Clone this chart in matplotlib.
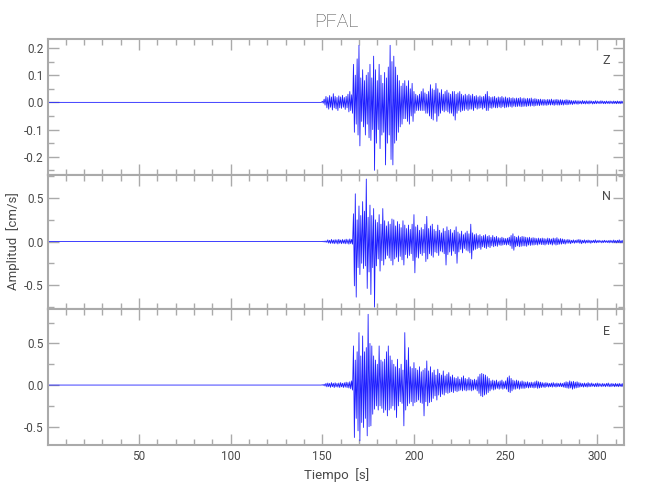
import numpy as np
import matplotlib
matplotlib.use("Agg")
import matplotlib.pyplot as plt
from matplotlib.ticker import MultipleLocator

# Station and components
station = "PFAL"
components = ["Z", "N", "E"]

# Peak readings, one positive and one negative peak per second (t = 150 .. 314 s)
t_start = 150
z_hi = [0.004, 0.012, 0.022, 0.018, 0.025, 0.02, 0.032, 0.022, 0.018, 0.024,
        0.02, 0.026, 0.018, 0.022, 0.03, 0.04, 0.028, 0.14, 0.10, 0.16,
        0.21, 0.09, 0.12, 0.08, 0.10, 0.11, 0.14, 0.09, 0.17, 0.12,
        0.08, 0.14, 0.10, 0.07, 0.11, 0.09, 0.13, 0.21, 0.15, 0.17,
        0.13, 0.10, 0.08, 0.06, 0.07, 0.08, 0.06, 0.08, 0.05, 0.07,
        0.04, 0.03, 0.025, 0.03, 0.04, 0.05, 0.035, 0.03, 0.04, 0.065,
        0.05, 0.045, 0.07, 0.05, 0.035, 0.047, 0.03, 0.04, 0.045, 0.035,
        0.03, 0.04, 0.04, 0.03, 0.035, 0.04, 0.03, 0.025, 0.03, 0.025,
        0.03, 0.025, 0.03, 0.022, 0.025, 0.02, 0.024, 0.02, 0.022, 0.03,
        0.04, 0.022, 0.018, 0.02, 0.022, 0.016, 0.02, 0.018, 0.022, 0.017,
        0.02, 0.016, 0.018, 0.015, 0.017, 0.014, 0.016, 0.015, 0.018, 0.014,
        0.016, 0.013, 0.015, 0.014, 0.016, 0.012, 0.014, 0.012, 0.011, 0.012,
        0.01, 0.011, 0.009, 0.011, 0.01, 0.012, 0.009, 0.01, 0.011, 0.009,
        0.01, 0.009, 0.008, 0.01, 0.009, 0.008, 0.007, 0.006, 0.007, 0.006,
        0.006, 0.005, 0.007, 0.005, 0.006, 0.005, 0.006, 0.005, 0.004, 0.006,
        0.005, 0.004, 0.006, 0.005, 0.004, 0.005, 0.004, 0.005, 0.004, 0.005,
        0.004, 0.005, 0.004, 0.005, 0.004]
z_lo = [-0.003, -0.01, -0.02, -0.025, -0.018, -0.028, -0.02, -0.024, -0.03, -0.02,
        -0.022, -0.018, -0.026, -0.02, -0.035, -0.03, -0.04, -0.11, -0.08, -0.12,
        -0.16, -0.07, -0.09, -0.12, -0.08, -0.13, -0.14, -0.10, -0.25, -0.15,
        -0.10, -0.17, -0.12, -0.11, -0.23, -0.15, -0.12, -0.21, -0.23, -0.15,
        -0.14, -0.11, -0.09, -0.08, -0.06, -0.06, -0.07, -0.08, -0.05, -0.07,
        -0.04, -0.03, -0.03, -0.03, -0.03, -0.03, -0.04, -0.04, -0.05, -0.06,
        -0.065, -0.04, -0.07, -0.05, -0.04, -0.03, -0.035, -0.03, -0.035, -0.04,
        -0.04, -0.05, -0.065, -0.04, -0.03, -0.035, -0.03, -0.03, -0.025, -0.03,
        -0.025, -0.025, -0.03, -0.02, -0.025, -0.022, -0.02, -0.025, -0.02, -0.03,
        -0.03, -0.02, -0.022, -0.018, -0.02, -0.02, -0.017, -0.02, -0.016, -0.02,
        -0.018, -0.017, -0.015, -0.018, -0.014, -0.016, -0.015, -0.014, -0.016, -0.015,
        -0.014, -0.015, -0.013, -0.014, -0.012, -0.014, -0.012, -0.011, -0.012, -0.01,
        -0.011, -0.01, -0.011, -0.009, -0.01, -0.009, -0.011, -0.009, -0.01, -0.01,
        -0.009, -0.01, -0.008, -0.009, -0.008, -0.007, -0.008, -0.006, -0.006, -0.007,
        -0.005, -0.006, -0.005, -0.006, -0.005, -0.006, -0.004, -0.006, -0.005, -0.005,
        -0.004, -0.005, -0.004, -0.005, -0.005, -0.004, -0.005, -0.004, -0.005, -0.004,
        -0.005, -0.004, -0.005, -0.004, -0.005]

n_hi = [0.003, 0.005, 0.008, 0.02, 0.015, 0.025, 0.018, 0.022, 0.02, 0.026,
        0.018, 0.024, 0.02, 0.028, 0.022, 0.03, 0.025, 0.32, 0.55, 0.25,
        0.41, 0.30, 0.46, 0.35, 0.72, 0.28, 0.42, 0.30, 0.38, 0.25,
        0.22, 0.31, 0.20, 0.38, 0.24, 0.18, 0.23, 0.20, 0.26, 0.25,
        0.18, 0.23, 0.20, 0.16, 0.24, 0.19, 0.15, 0.19, 0.14, 0.20,
        0.31, 0.17, 0.19, 0.13, 0.16, 0.14, 0.20, 0.29, 0.15, 0.18,
        0.20, 0.14, 0.12, 0.19, 0.13, 0.10, 0.15, 0.12, 0.17, 0.13,
        0.14, 0.10, 0.13, 0.17, 0.11, 0.09, 0.12, 0.08, 0.10, 0.12,
        0.09, 0.20, 0.10, 0.08, 0.09, 0.07, 0.08, 0.06, 0.07, 0.08,
        0.06, 0.07, 0.05, 0.07, 0.05, 0.06, 0.045, 0.04, 0.05, 0.04,
        0.035, 0.04, 0.05, 0.07, 0.09, 0.06, 0.05, 0.065, 0.05, 0.06,
        0.055, 0.05, 0.045, 0.05, 0.04, 0.045, 0.04, 0.035, 0.04, 0.035,
        0.04, 0.035, 0.03, 0.04, 0.035, 0.03, 0.04, 0.035, 0.045, 0.03,
        0.035, 0.03, 0.025, 0.02, 0.025, 0.02, 0.015, 0.02, 0.015, 0.02,
        0.025, 0.02, 0.015, 0.02, 0.015, 0.018, 0.015, 0.012, 0.015, 0.02,
        0.012, 0.015, 0.01, 0.012, 0.015, 0.01, 0.012, 0.015, 0.012, 0.018,
        0.012, 0.015, 0.02, 0.012, 0.015]
n_lo = [-0.003, -0.006, -0.01, -0.018, -0.022, -0.02, -0.025, -0.02, -0.028, -0.02,
        -0.025, -0.02, -0.026, -0.022, -0.03, -0.024, -0.03, -0.51, -0.64, -0.30,
        -0.38, -0.25, -0.31, -0.28, -0.54, -0.35, -0.61, -0.30, -0.755, -0.28,
        -0.20, -0.34, -0.22, -0.27, -0.20, -0.16, -0.19, -0.22, -0.27, -0.20,
        -0.18, -0.23, -0.17, -0.21, -0.27, -0.15, -0.19, -0.16, -0.14, -0.22,
        -0.36, -0.18, -0.19, -0.14, -0.16, -0.13, -0.23, -0.20, -0.14, -0.16,
        -0.18, -0.12, -0.13, -0.16, -0.11, -0.12, -0.14, -0.27, -0.15, -0.12,
        -0.16, -0.11, -0.14, -0.25, -0.12, -0.09, -0.13, -0.08, -0.10, -0.11,
        -0.13, -0.20, -0.10, -0.09, -0.08, -0.07, -0.09, -0.06, -0.07, -0.08,
        -0.06, -0.07, -0.05, -0.06, -0.05, -0.055, -0.04, -0.045, -0.04, -0.035,
        -0.04, -0.035, -0.05, -0.08, -0.10, -0.06, -0.05, -0.06, -0.055, -0.05,
        -0.05, -0.055, -0.04, -0.045, -0.04, -0.04, -0.035, -0.04, -0.03, -0.035,
        -0.035, -0.04, -0.03, -0.035, -0.03, -0.04, -0.03, -0.04, -0.035, -0.03,
        -0.03, -0.025, -0.03, -0.02, -0.02, -0.025, -0.015, -0.02, -0.015, -0.015,
        -0.02, -0.025, -0.015, -0.02, -0.015, -0.015, -0.02, -0.012, -0.015, -0.015,
        -0.012, -0.01, -0.015, -0.012, -0.01, -0.012, -0.015, -0.012, -0.015, -0.012,
        -0.015, -0.012, -0.015, -0.015, -0.012]

e_hi = [0.004, 0.01, 0.02, 0.025, 0.02, 0.03, 0.022, 0.028, 0.02, 0.025,
        0.03, 0.022, 0.028, 0.035, 0.03, 0.04, 0.05, 0.47, 0.30, 0.40,
        0.63, 0.35, 0.59, 0.40, 0.45, 0.85, 0.50, 0.47, 0.35, 0.30,
        0.25, 0.47, 0.30, 0.28, 0.31, 0.40, 0.47, 0.35, 0.30, 0.25,
        0.22, 0.31, 0.20, 0.25, 0.18, 0.63, 0.30, 0.45, 0.22, 0.20,
        0.27, 0.20, 0.18, 0.22, 0.16, 0.18, 0.20, 0.29, 0.17, 0.22,
        0.15, 0.18, 0.12, 0.19, 0.14, 0.12, 0.17, 0.11, 0.13, 0.15,
        0.10, 0.12, 0.09, 0.08, 0.10, 0.07, 0.09, 0.11, 0.08, 0.07,
        0.09, 0.07, 0.06, 0.07, 0.06, 0.10, 0.13, 0.14, 0.13, 0.12,
        0.10, 0.08, 0.05, 0.06, 0.05, 0.06, 0.04, 0.05, 0.06, 0.04,
        0.05, 0.09, 0.11, 0.08, 0.06, 0.05, 0.06, 0.05, 0.04, 0.05,
        0.04, 0.035, 0.04, 0.03, 0.035, 0.03, 0.04, 0.05, 0.04, 0.035,
        0.03, 0.025, 0.03, 0.025, 0.02, 0.025, 0.03, 0.02, 0.025, 0.02,
        0.025, 0.02, 0.03, 0.04, 0.035, 0.05, 0.04, 0.045, 0.035, 0.04,
        0.03, 0.025, 0.02, 0.025, 0.02, 0.03, 0.02, 0.025, 0.015, 0.02,
        0.025, 0.02, 0.015, 0.02, 0.015, 0.02, 0.025, 0.015, 0.02, 0.015,
        0.02, 0.015, 0.02, 0.015, 0.02]
e_lo = [-0.004, -0.012, -0.022, -0.02, -0.028, -0.02, -0.03, -0.022, -0.025, -0.03,
        -0.022, -0.03, -0.025, -0.03, -0.035, -0.045, -0.06, -0.63, -0.40, -0.55,
        -0.67, -0.45, -0.51, -0.40, -0.61, -0.50, -0.49, -0.35, -0.29, -0.25,
        -0.30, -0.25, -0.28, -0.33, -0.30, -0.37, -0.30, -0.28, -0.25, -0.30,
        -0.39, -0.25, -0.20, -0.22, -0.49, -0.30, -0.25, -0.22, -0.20, -0.25,
        -0.21, -0.20, -0.18, -0.21, -0.22, -0.37, -0.20, -0.25, -0.21, -0.20,
        -0.16, -0.13, -0.18, -0.12, -0.14, -0.11, -0.12, -0.09, -0.10, -0.09,
        -0.08, -0.09, -0.07, -0.08, -0.07, -0.06, -0.07, -0.06, -0.07, -0.06,
        -0.06, -0.07, -0.06, -0.05, -0.07, -0.10, -0.13, -0.14, -0.12, -0.11,
        -0.09, -0.07, -0.05, -0.06, -0.05, -0.04, -0.05, -0.04, -0.05, -0.04,
        -0.05, -0.08, -0.09, -0.07, -0.05, -0.05, -0.04, -0.05, -0.04, -0.04,
        -0.04, -0.03, -0.035, -0.03, -0.03, -0.035, -0.03, -0.04, -0.035, -0.03,
        -0.025, -0.03, -0.02, -0.025, -0.02, -0.025, -0.02, -0.025, -0.02, -0.02,
        -0.02, -0.025, -0.03, -0.035, -0.04, -0.035, -0.05, -0.04, -0.035, -0.03,
        -0.025, -0.02, -0.025, -0.02, -0.025, -0.02, -0.02, -0.015, -0.02, -0.02,
        -0.02, -0.015, -0.02, -0.015, -0.02, -0.015, -0.02, -0.02, -0.015, -0.02,
        -0.015, -0.02, -0.015, -0.02, -0.015]

peaks = {"Z": (z_hi, z_lo), "N": (n_hi, n_lo), "E": (e_hi, e_lo)}
ylims = {"Z": (-0.266, 0.232), "N": (-0.78, 0.77), "E": (-0.72, 0.91)}
ymajor = {"Z": 0.1, "N": 0.5, "E": 0.5}

plt.rcParams["font.family"] = ["Roboto", "DejaVu Sans"]
text_color = "#4a4a4a"
frame_color = "#aaaaaa"

fig = plt.figure(figsize=(6.5, 5), dpi=100)
left, right = 48.3 / 650, 624 / 650
edges = [39.3, 174.7, 309.3, 445]

axes = []
for i, comp in enumerate(components):
    top_px, bot_px = edges[i], edges[i + 1]
    ax = fig.add_axes([left, 1 - bot_px / 500, right - left, (bot_px - top_px) / 500])
    axes.append(ax)

    hi, lo = peaks[comp]
    t = t_start + np.arange(len(hi))
    tt = np.column_stack([t, t + 0.5]).ravel()
    vv = np.column_stack([hi, lo]).ravel()
    tt = np.concatenate([[0.5, t_start - 0.5], tt])
    vv = np.concatenate([[0, 0], vv])
    ax.plot(tt, vv, color="#1f1fff", lw=0.6)

    ax.set_xlim(0.5, 314.6)
    ax.set_ylim(*ylims[comp])
    ax.xaxis.set_major_locator(MultipleLocator(50))
    ax.xaxis.set_minor_locator(MultipleLocator(10))
    ax.yaxis.set_major_locator(MultipleLocator(ymajor[comp]))
    ax.yaxis.set_minor_locator(MultipleLocator(ymajor[comp] / 2))
    ax.tick_params(which="both", direction="in", top=True, right=True,
                   color=frame_color, labelcolor=text_color, labelsize=8.5, width=1)
    ax.tick_params(which="major", length=8)
    ax.tick_params(which="minor", length=4)
    ax.yaxis.set_major_formatter(matplotlib.ticker.FormatStrFormatter("%.1f"))
    for sp in ax.spines.values():
        sp.set_color(frame_color)
        sp.set_linewidth(1.5)
    if i < 2:
        ax.tick_params(labelbottom=False)
    ax.text(0.969, 0.84, comp, transform=ax.transAxes, ha="center", va="center",
            fontsize=9, color=text_color)

fig.text((left + right) / 2, 1 - 22 / 500, station, ha="center", va="center",
         fontsize=14, color=text_color, fontweight="light")
axes[2].set_xlabel("Tiempo  [s]", fontsize=9.5, color=text_color, labelpad=4)
fig.text(13 / 650, 1 - 241 / 500, "Amplitud  [cm/s]", rotation=90, ha="center",
         va="center", fontsize=9.5, color=text_color)

fig.savefig("out.png", dpi=100)
